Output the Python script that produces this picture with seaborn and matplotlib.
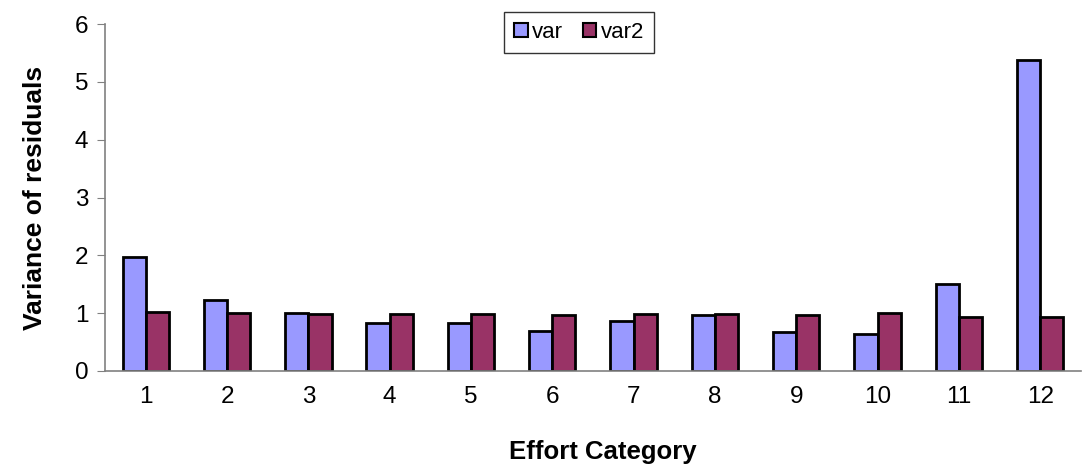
import matplotlib
matplotlib.use("Agg")
import matplotlib.pyplot as plt
import seaborn as sns
import pandas as pd
from matplotlib.ticker import FixedLocator

# values
categories = [str(i) for i in range(1, 13)]
var = [1.97, 1.22, 1.00, 0.83, 0.83, 0.69, 0.86, 0.97, 0.68, 0.64, 1.51, 5.37]
var2 = [1.02, 1.01, 0.99, 0.98, 0.98, 0.97, 0.98, 0.98, 0.97, 1.00, 0.93, 0.93]

df = pd.DataFrame({
    "Effort Category": categories * 2,
    "value": var + var2,
    "series": ["var"] * 12 + ["var2"] * 12,
})

sns.set_style("white")
plt.rcParams["font.family"] = ["Liberation Sans", "DejaVu Sans"]
plt.rcParams["text.color"] = "black"
plt.rcParams["xtick.color"] = "black"
plt.rcParams["ytick.color"] = "black"
plt.rcParams["axes.labelcolor"] = "black"

fig, ax = plt.subplots(figsize=(10.83, 4.72), dpi=100)
fig.subplots_adjust(left=0.097, right=0.998, bottom=0.214, top=0.949)

sns.barplot(data=df, x="Effort Category", y="value", hue="series",
            palette={"var": "#9999FF", "var2": "#993366"},
            width=0.57, saturation=1, edgecolor="black", linewidth=2,
            ax=ax)

ax.set_xlim(-0.5, 11.5)
ax.set_ylim(0, 6)
ax.set_yticks(range(0, 7))
ax.xaxis.set_minor_locator(FixedLocator([i - 0.5 for i in range(13)]))
ax.tick_params(axis="x", which="major", length=0, labelsize=17.5, pad=11)
ax.tick_params(axis="x", which="minor", length=6, color="#808080", width=1, direction="out")
ax.tick_params(axis="y", length=6, color="#808080", labelsize=17.5, direction="out",
               left=True, pad=6)

for side in ["top", "right"]:
    ax.spines[side].set_visible(False)
for side in ["left", "bottom"]:
    ax.spines[side].set_color("#808080")
    ax.spines[side].set_linewidth(1.2)

ax.set_xlabel("Effort Category", fontsize=18.5, fontweight="bold")
ax.xaxis.set_label_coords(0.51, -0.2)
ax.set_ylabel("Variance of residuals", fontsize=19, fontweight="bold", labelpad=20)

leg = ax.legend(loc="upper center", bbox_to_anchor=(0.486, 1.035), ncol=2,
                fontsize=16, frameon=True, fancybox=False, handlelength=0.6,
                handleheight=0.6, handletextpad=0.2, columnspacing=0.9,
                borderpad=0.45, borderaxespad=0)
leg.get_frame().set_edgecolor("black")
leg.get_frame().set_linewidth(1)
for h in leg.legend_handles:
    h.set_linewidth(1.5)

fig.savefig("out.png", dpi=100)
